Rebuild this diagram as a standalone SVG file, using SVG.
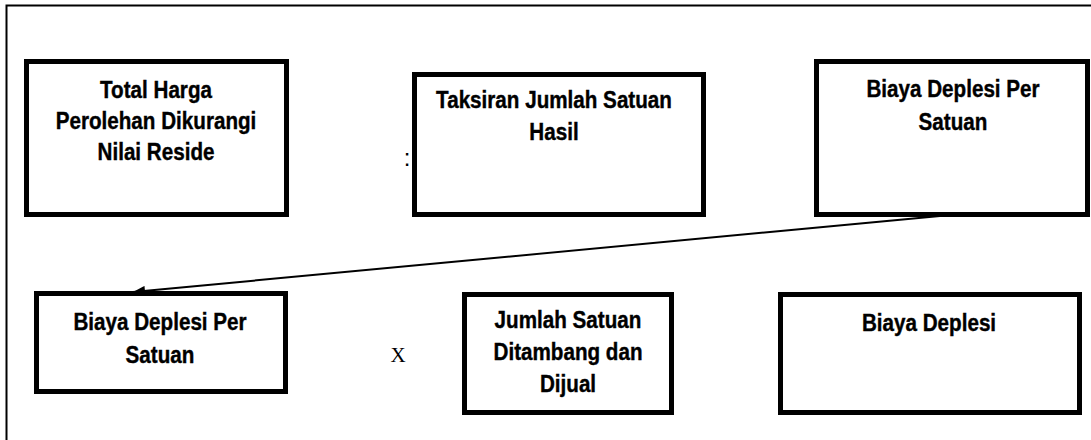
<svg xmlns="http://www.w3.org/2000/svg" width="1091" height="440" viewBox="0 0 1091 440">
<style>
.box{fill:#fff;stroke:#000;stroke-width:5}
.t{font-family:"Liberation Sans",Arial,sans-serif;font-weight:bold;font-size:24px;fill:#000;stroke:#000;stroke-width:0.4;text-anchor:middle}
.conn{stroke:#000;stroke-width:2;fill:none}
</style>
<defs>
<marker id="ah" markerWidth="12" markerHeight="10" refX="12" refY="5" orient="auto" markerUnits="userSpaceOnUse">
<path d="M0,0 L12,5 L0,10 Z" fill="#000"/>
</marker>
</defs>
<rect width="1091" height="440" fill="#fff"/>
<path d="M6.5,440 V5.5 H1091" fill="none" stroke="#000" stroke-width="2"/>
<g id="n1">
<rect class="box" x="26.5" y="61.5" width="260" height="153"/>
<text class="t" transform="translate(156 98) scale(0.86 1)">Total Harga</text>
<text class="t" transform="translate(156 129) scale(0.86 1)">Perolehan Dikurangi</text>
<text class="t" transform="translate(156 160) scale(0.86 1)">Nilai Reside</text>
</g>
<text x="407" y="166" font-family="Liberation Sans,Arial,sans-serif" font-size="24" text-anchor="middle">:</text>
<g id="n2">
<rect class="box" x="414.5" y="74.5" width="289" height="140"/>
<text class="t" transform="translate(554 108) scale(0.86 1)">Taksiran Jumlah Satuan</text>
<text class="t" transform="translate(554 140) scale(0.86 1)">Hasil</text>
</g>
<g id="n3">
<rect class="box" x="816.5" y="61.5" width="271" height="153"/>
<text class="t" transform="translate(953 97) scale(0.86 1)">Biaya Deplesi Per</text>
<text class="t" transform="translate(953 130) scale(0.86 1)">Satuan</text>
</g>
<g id="n4">
<rect class="box" x="36.5" y="293.5" width="249" height="98"/>
<text class="t" transform="translate(160 330) scale(0.86 1)">Biaya Deplesi Per</text>
<text class="t" transform="translate(160 363) scale(0.86 1)">Satuan</text>
</g>
<text x="398" y="362" font-family="Liberation Serif,Times New Roman,serif" font-size="21" text-anchor="middle">X</text>
<g id="n5">
<rect class="box" x="464.5" y="294.5" width="207" height="118"/>
<text class="t" transform="translate(568 328) scale(0.86 1)">Jumlah Satuan</text>
<text class="t" transform="translate(568 360) scale(0.86 1)">Ditambang dan</text>
<text class="t" transform="translate(568 392) scale(0.86 1)">Dijual</text>
</g>
<g id="n6">
<rect class="box" x="780.5" y="294.5" width="299" height="118"/>
<text class="t" transform="translate(929 331) scale(0.86 1)">Biaya Deplesi</text>
</g>
<g id="connectors">
<line class="conn" x1="940" y1="216" x2="133" y2="292" marker-end="url(#ah)"/>
</g>
</svg>
